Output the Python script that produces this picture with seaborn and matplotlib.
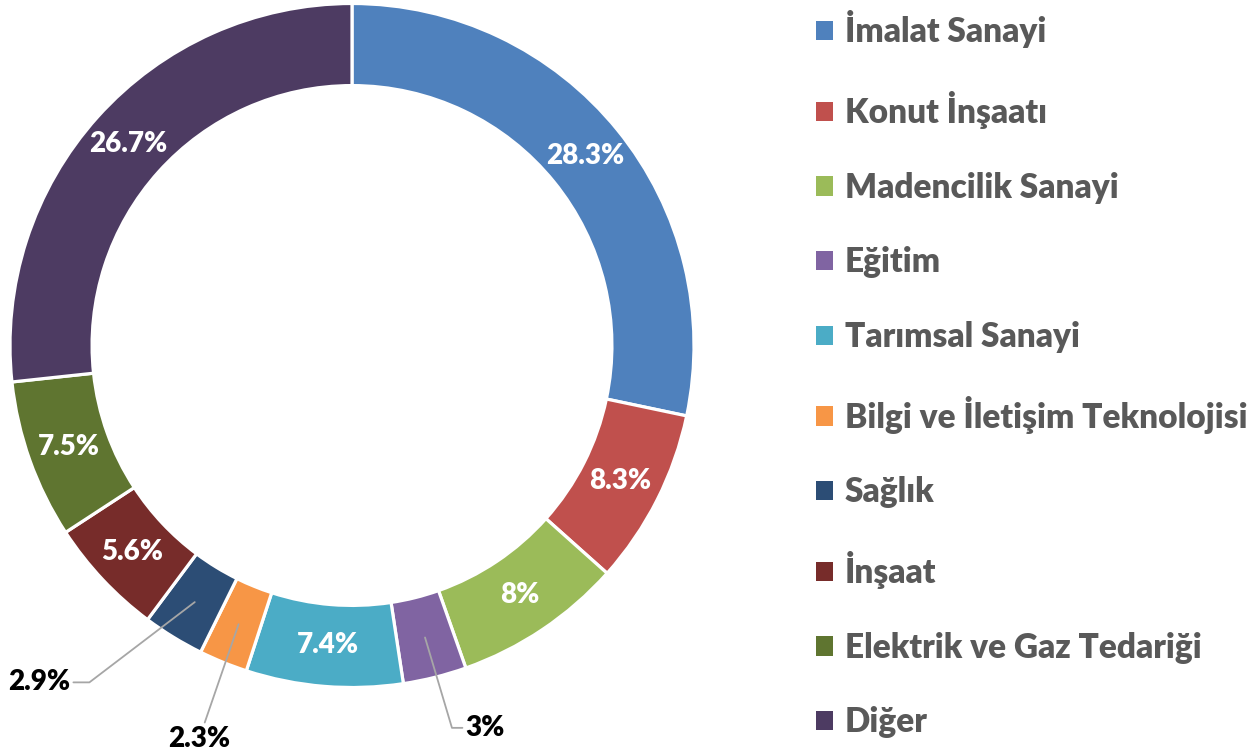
import numpy as np
import matplotlib
matplotlib.use("Agg")
import matplotlib.pyplot as plt
import matplotlib.patches as mpatches
import seaborn as sns

sns.set_theme(style="white")
plt.rcParams['font.family'] = ['Lato', 'DejaVu Sans']

sectors = ["İmalat Sanayi", "Konut İnşaatı", "Madencilik Sanayi", "Eğitim",
           "Tarımsal Sanayi", "Bilgi ve İletişim Teknolojisi", "Sağlık",
           "İnşaat", "Elektrik ve Gaz Tedariği", "Diğer"]
shares = [28.3, 8.3, 8, 3, 7.4, 2.3, 2.9, 5.6, 7.5, 26.7]
colors = ["#4F81BD", "#C0504D", "#9BBB59", "#8064A2", "#4BACC6",
          "#F79646", "#2C4D75", "#772C2A", "#5F7530", "#4D3B62"]

# small slices get their label outside with a leader line
outside = {
    "Eğitim": dict(xytext=(0.39, -1.118), conn="angle,angleA=0,angleB=-73.4"),
    "Bilgi ve İletişim Teknolojisi": dict(xytext=(-0.447, -1.15), conn="arc3"),
    "Sağlık": dict(xytext=(-0.915, -0.985), conn="angle,angleA=0,angleB=37.3"),
}

W, H = 1257, 754
fig = plt.figure(figsize=(W / 100, H / 100), dpi=100)
cx, cy, R = 352, 345.5, 342
ax = fig.add_axes([(cx - R) / W, (H - cy - R) / H, 2 * R / W, 2 * R / H])

wedges, _ = ax.pie(shares, colors=colors, startangle=90, counterclock=False,
                   radius=1, wedgeprops=dict(width=0.24, edgecolor="white", linewidth=2.3))
ax.set_xlim(-1, 1)
ax.set_ylim(-1, 1)
ax.set_aspect("equal")
ax.axis("off")

WEIGHT = 800
for w, name, v in zip(wedges, sectors, shares):
    th = np.deg2rad((w.theta1 + w.theta2) / 2)
    r = 0.88
    px, py = r * np.cos(th), r * np.sin(th)
    txt = f"{v:g}%"
    if name in outside:
        o = outside[name]
        ax.annotate(txt, xy=(px, py), xytext=o["xytext"], ha="center", va="center",
                    fontsize=20, fontweight=WEIGHT, color="black", annotation_clip=False,
                    arrowprops=dict(arrowstyle="-", color="#A6A6A6", lw=1.3,
                                    shrinkA=0, shrinkB=0, connectionstyle=o["conn"]))
    else:
        ax.text(px, py, txt, ha="center", va="center", fontsize=20,
                fontweight=WEIGHT, color="white")

handles = [mpatches.Patch(facecolor=c, edgecolor="none") for c in colors]
leg = fig.legend(handles, sectors, loc="upper left", bbox_to_anchor=(816 / W, 1 - 10.5 / H),
                 frameon=False, fontsize=24, handlelength=0.51, handleheight=0.51,
                 handletextpad=0.36, labelspacing=1.28, borderaxespad=0, borderpad=0)
for t in leg.get_texts():
    t.set_color("#595959")
    t.set_fontweight(WEIGHT)

fig.savefig("out.png", dpi=100)
